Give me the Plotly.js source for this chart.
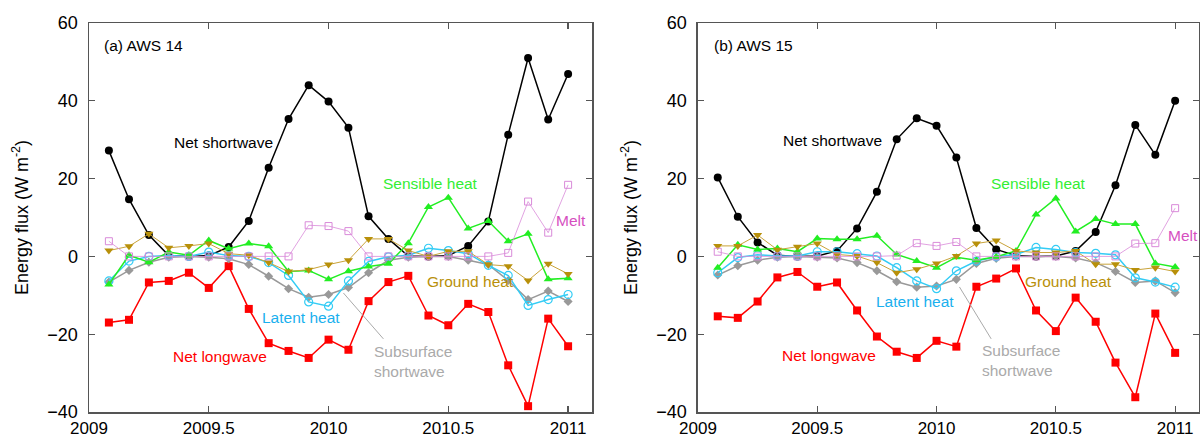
<!DOCTYPE html>
<html>
<head>
<meta charset="utf-8">
<script src="https://cdn.plot.ly/plotly-3.0.1.min.js"></script>
<style>
  html, body { margin: 0; padding: 0; background: #fff; }
  #chart { width: 1200px; height: 437px; }
</style>
</head>
<body>
<div id="chart"></div>
<script>
// Monthly mean time (decimal year)
const months = [2009.083, 2009.167, 2009.25, 2009.333, 2009.417, 2009.5, 2009.583, 2009.667, 2009.75, 2009.833, 2009.917, 2010.0,
                2010.083, 2010.167, 2010.25, 2010.333, 2010.417, 2010.5, 2010.583, 2010.667, 2010.75, 2010.833, 2010.917, 2011.0];

// (a) AWS 14
const netSW_a   = [27.2, 14.7, 5.5, 0.2, 0, 0.2, 2.4, 9.1, 22.8, 35.3, 44.0, 39.8, 33.1, 10.3, 4.5, 0.1, 0, 0.2, 2.7, 9.0, 31.3, 51.0, 35.2, 46.9];
const netLW_a   = [-17.0, -16.3, -6.7, -6.3, -4.2, -8.1, -2.5, -13.5, -22.3, -24.3, -26.1, -21.4, -24.0, -11.5, -6.6, -5.0, -15.2, -17.7, -12.2, -14.3, -28.0, -38.5, -16.0, -23.1];
const sens_a    = [-7.2, 0.3, -1.5, 1.1, 0.3, 4.1, 2.0, 3.3, 2.6, -3.9, -3.6, -5.9, -3.8, -2.6, -1.9, 3.4, 12.7, 15.1, 7.2, 9.1, 3.9, 5.8, -5.9, -5.6];
const latent_a  = [-6.3, -1.2, 0, 0.2, 0, 1.1, 0.2, 0, -1.6, -4.9, -11.7, -12.8, -6.3, -1.3, -0.1, 0.3, 2.1, 1.5, 0.7, -2.3, -4.9, -12.6, -11.1, -9.8];
const subSW_a   = [-6.6, -3.6, -1.5, -0.2, 0, -0.2, -0.6, -2.1, -5.1, -8.3, -10.5, -9.8, -8.0, -4.2, -1.0, -0.2, 0, 0, -1.0, -2.1, -6.2, -11.1, -8.9, -11.6];
const ground_a  = [1.5, 2.6, 5.8, 2.2, 2.7, 3.3, 0.7, 0.3, -1.6, -3.9, -3.4, -2.1, -1.0, 4.5, 4.5, 1.5, 0, 1.3, 1.3, -2.1, -2.5, -6.2, -1.9, -4.5];
const melt_a    = [3.9, 0, 0, 0, 0, 0, 0, 0, 0, 0, 8.0, 7.8, 6.5, 0, 0, 0, 0, 0, 0, 0, 0.9, 14.1, 6.1, 18.4];

// (b) AWS 15
const netSW_b   = [20.3, 10.2, 3.6, 0.3, 0, 0.1, 1.4, 7.2, 16.6, 30.1, 35.5, 33.6, 25.4, 7.3, 1.8, 0.2, 0, 0.1, 1.4, 6.3, 18.3, 33.8, 26.1, 40.0];
const netLW_b   = [-15.4, -15.8, -11.6, -5.4, -4.0, -7.8, -6.7, -13.9, -20.6, -24.5, -26.1, -21.7, -23.2, -7.8, -5.7, -3.1, -13.9, -19.2, -10.6, -16.8, -27.3, -36.2, -14.7, -24.8];
const sens_b    = [-2.9, 3.0, 1.8, 2.0, 1.2, 4.6, 4.4, 4.4, 5.3, 0.5, -1.2, -2.9, -0.2, -1.0, -0.1, 1.4, 10.8, 14.9, 6.4, 9.6, 8.3, 8.3, -1.8, -2.7];
const latent_b  = [-4.2, -0.3, 0.4, 0.1, 0.1, 1.2, 1.2, 0.7, 0.1, -2.9, -6.3, -8.3, -3.7, -1.2, -0.1, 0.5, 2.3, 1.8, 1.0, 0.8, 0.4, -5.5, -6.6, -7.9];
const subSW_b   = [-4.8, -2.4, -1.0, -0.2, 0, -0.2, -0.4, -1.6, -3.7, -6.5, -7.9, -7.6, -5.9, -1.8, -0.5, 0, 0, 0, -0.4, -1.6, -3.9, -6.7, -6.3, -9.3];
const ground_b  = [2.7, 2.7, 5.5, 1.7, 2.5, 3.3, 0.5, 0.1, -1.6, -4.2, -3.3, -1.8, 0.1, 3.3, 4.1, 1.4, 1.0, 1.0, 1.4, -2.0, -2.0, -3.5, -2.9, -3.9];
const melt_b    = [1.2, 0, 0, 0, 0, 0, 0, 0, 0, 0.2, 3.4, 2.7, 3.7, 0, 0, 0, 0, 0, 0, 0, 0, 3.3, 3.4, 12.4];

const FONT = '"Liberation Sans", Arial, Helvetica, sans-serif';
const C = {
  sw: '#000000', lw: '#ff0000', sens: '#22ee22', lat: '#33ccf5', sub: '#999999',
  gr: '#b8900a', grLine: '#c9a33a', melt: '#d98ad9', meltTxt: '#d64fbf',
  latTxt: '#1ab0ee', senTxt: '#33ee33', subTxt: '#aaaaaa'
};

function panel(xa, ya, sw, lw, sens, lat, sub, gr, melt) {
  const base = {x: months, xaxis: xa, yaxis: ya, mode: 'lines+markers', showlegend: false, hoverinfo: 'x+y'};
  return [
    Object.assign({}, base, {y: sw, name: 'Net shortwave', line: {color: C.sw, width: 1.5}, marker: {symbol: 'circle', size: 8, color: C.sw}}),
    Object.assign({}, base, {y: lw, name: 'Net longwave', line: {color: C.lw, width: 1.5}, marker: {symbol: 'square', size: 8, color: C.lw}}),
    Object.assign({}, base, {y: sub, name: 'Subsurface shortwave', line: {color: C.sub, width: 1.5}, marker: {symbol: 'diamond', size: 7, color: C.sub}}),
    Object.assign({}, base, {y: lat, name: 'Latent heat', line: {color: C.lat, width: 1.5}, marker: {symbol: 'circle-open', size: 8, color: C.lat, line: {width: 1.2}}}),
    Object.assign({}, base, {y: sens, name: 'Sensible heat', line: {color: C.sens, width: 1.5}, marker: {symbol: 'triangle-up', size: 8, color: C.sens}}),
    Object.assign({}, base, {y: gr, name: 'Ground heat', line: {color: C.grLine, width: 1}, marker: {symbol: 'triangle-down', size: 8, color: C.gr}}),
    Object.assign({}, base, {y: melt, name: 'Melt', line: {color: C.melt, width: 0.8}, marker: {symbol: 'square-open', size: 7, color: C.melt, line: {width: 1}}})
  ];
}

const data = [].concat(
  panel('x', 'y', netSW_a, netLW_a, sens_a, latent_a, subSW_a, ground_a, melt_a),
  panel('x2', 'y2', netSW_b, netLW_b, sens_b, latent_b, subSW_b, ground_b, melt_b)
);

const xTicks = [2009, 2009.5, 2010, 2010.5, 2011];
const xTickText = ['2009', '2009.5', '2010', '2010.5', '2011'];
const yTicks = [-40, -20, 0, 20, 40, 60];

function xax(domain, anchor) {
  return {
    domain: domain, anchor: anchor, range: [2009, 2011.1], tickvals: xTicks, ticktext: xTickText,
    ticks: 'inside', ticklen: 6, tickcolor: '#555', tickwidth: 1.2, showline: true, linecolor: '#555', linewidth: 1.5,
    mirror: 'ticks', showgrid: false, zeroline: false, tickfont: {family: FONT, size: 17, color: '#000'}, automargin: false,
    ticklabelstandoff: 0
  };
}
function yax(anchor) {
  return {
    domain: [0, 1], anchor: anchor, range: [-40, 60], tickvals: yTicks,
    ticks: 'inside', ticklen: 6, tickcolor: '#555', tickwidth: 1.2, showline: true, linecolor: '#555', linewidth: 1.5,
    mirror: 'ticks', showgrid: false, zeroline: false, tickfont: {family: FONT, size: 18, color: '#000'}, automargin: false,
    ticklabelstandoff: 6,
    title: {text: 'Energy flux (W m<sup>-2</sup>)', font: {family: FONT, size: 18, color: '#000'}, standoff: 14}
  };
}

function ann(xref, yref, x, y, text, color, extra) {
  return Object.assign({xref: xref, yref: yref, x: x, y: y, text: text, showarrow: false, xanchor: 'left', yanchor: 'middle',
    align: 'left', font: {family: FONT, size: 15.5, color: color}}, extra || {});
}

const annotations = [
  ann('x', 'y', 2009.055, 54.2, '(a) AWS 14', '#000'),
  ann('x', 'y', 2009.345, 29.3, 'Net shortwave', C.sw),
  ann('x', 'y', 2010.218, 18.8, 'Sensible heat', C.senTxt),
  ann('x', 'y', 2010.942, 9.3, 'Melt', C.meltTxt),
  ann('x', 'y', 2010.402, -6.35, 'Ground heat', C.gr),
  ann('x', 'y', 2009.713, -15.7, 'Latent heat', C.latTxt),
  ann('x', 'y', 2009.341, -25.7, 'Net longwave', C.lw),
  ann('x', 'y', 2010.181, -26.9, 'Subsurface<br>shortwave', C.subTxt),

  ann('x2', 'y2', 2009.058, 54.2, '(b) AWS 15', '#000'),
  ann('x2', 'y2', 2009.347, 29.7, 'Net shortwave', C.sw),
  ann('x2', 'y2', 2010.220, 18.7, 'Sensible heat', C.senTxt),
  ann('x2', 'y2', 2010.962, 5.5, 'Melt', C.meltTxt),
  ann('x2', 'y2', 2010.364, -6.5, 'Ground heat', C.gr),
  ann('x2', 'y2', 2009.738, -11.6, 'Latent heat', C.latTxt),
  ann('x2', 'y2', 2009.343, -25.6, 'Net longwave', C.lw),
  ann('x2', 'y2', 2010.182, -26.8, 'Subsurface<br>shortwave', C.subTxt)
];

const shapes = [
  {type: 'line', xref: 'x', yref: 'y', x0: 2010.062, y0: -9.4, x1: 2010.229, y1: -21.2, line: {color: '#aaaaaa', width: 1}},
  {type: 'line', xref: 'x2', yref: 'y2', x0: 2010.096, y0: -7.85, x1: 2010.229, y1: -21.2, line: {color: '#aaaaaa', width: 1}}
];

const layout = {
  width: 1200, height: 437,
  margin: {l: 89, r: 1, t: 23, b: 25, pad: 0},
  paper_bgcolor: '#ffffff', plot_bgcolor: '#ffffff',
  showlegend: false,
  font: {family: FONT, size: 14, color: '#000'},
  xaxis: xax([0, 0.4532], 'y'),
  yaxis: yax('x'),
  xaxis2: xax([0.5486, 1], 'y2'),
  yaxis2: yax('x2'),
  annotations: annotations,
  shapes: shapes
};

Plotly.newPlot('chart', data, layout, {displayModeBar: false, staticPlot: true});
</script>
</body>
</html>
